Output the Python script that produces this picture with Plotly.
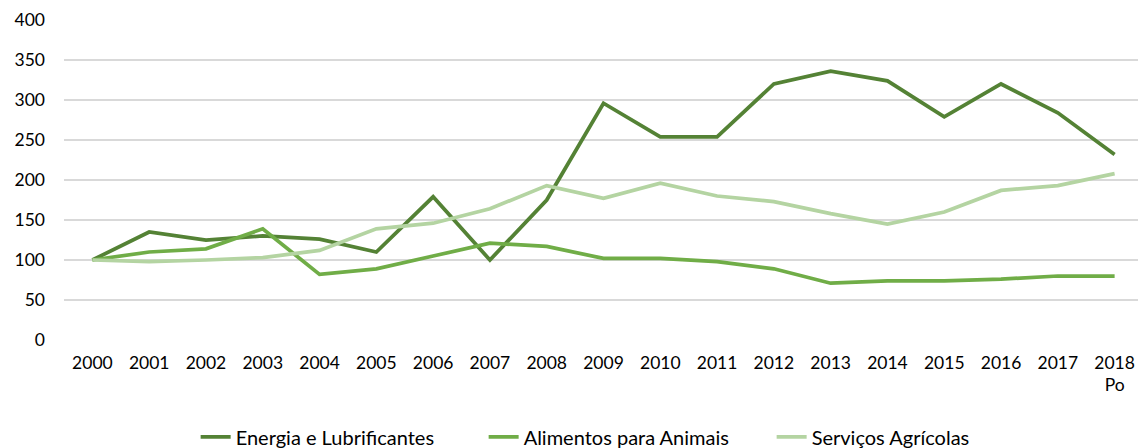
import plotly.graph_objects as go

years = ["2000", "2001", "2002", "2003", "2004", "2005", "2006", "2007", "2008", "2009",
         "2010", "2011", "2012", "2013", "2014", "2015", "2016", "2017", "2018<br>Po"]
energia = [100, 135, 125, 130, 126, 110, 179, 100, 175, 296, 254, 254, 320, 336, 324, 279, 320, 284, 232]
alimentos = [100, 110, 114, 139, 82, 89, 105, 121, 117, 102, 102, 98, 89, 71, 74, 74, 76, 80, 80]
servicos = [100, 98, 100, 103, 112, 139, 146, 164, 193, 177, 196, 180, 173, 158, 145, 160, 187, 193, 208]

names = ["Energia e Lubrificantes", "Alimentos para Animais", "Serviços Agrícolas"]
colors = ["#548235", "#70AD47", "#B4D4A2"]

fig = go.Figure()
for name, vals, col in zip(names, [energia, alimentos, servicos], colors):
    fig.add_trace(go.Scatter(x=years, y=vals, name=name, mode="lines",
                             line=dict(color=col, width=3.75)))

# the page adds an 8px body margin, so the figure is sized to the remaining area
fig.update_layout(
    width=1138, height=440,
    margin=dict(l=56, r=3, t=12, b=108, autoexpand=False),
    paper_bgcolor="white", plot_bgcolor="white",
    font=dict(family="Lato, Open Sans, sans-serif", size=17.5, color="#000000"),
    showlegend=True,
    legend=dict(orientation="h", x=0.122, xanchor="left", y=-0.242, yanchor="top",
                font=dict(size=20), tracegroupgap=0,
                entrywidth=243, entrywidthmode="pixels"),
    xaxis=dict(type="category", range=[-0.5, 18.5], showgrid=False, zeroline=False,
               showline=False, ticks="", tickangle=0, ticklabelstandoff=10),
    yaxis=dict(range=[0, 400], dtick=50, showgrid=True, gridcolor="#D9D9D9", gridwidth=1.5,
               zeroline=False, showline=False, ticks="", ticklabelstandoff=18),
)

fig.write_html("out.html")
